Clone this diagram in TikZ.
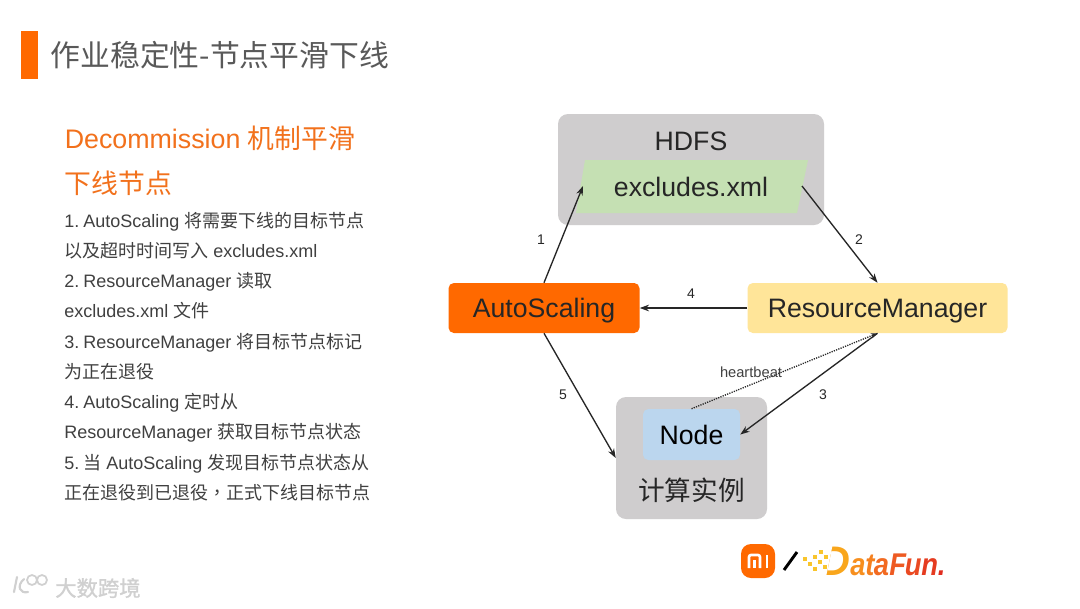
\documentclass[tikz,border=0pt]{standalone}
\usepackage{fontspec}
\setmainfont{Liberation Sans}
\newfontfamily\cjk{Noto Sans CJK SC}
\newfontfamily\cjktc{Noto Sans CJK TC}
\newfontfamily\cjkwm[FakeBold=1.2]{Noto Sans CJK SC}
\newcommand{\zh}[1]{{\cjk #1}}
\newcommand{\numgap}{\kern 3pt}
\usetikzlibrary{arrows.meta}
\definecolor{mibrand}{HTML}{FF6900}
\definecolor{boxgray}{HTML}{CFCDCE}
\definecolor{filegreen}{HTML}{C5E0B3}
\definecolor{rmyellow}{HTML}{FFE599}
\definecolor{nodeblue}{HTML}{BBD6EE}
\definecolor{inkdark}{HTML}{262626}
\definecolor{titlegray}{HTML}{595959}
\definecolor{headorange}{HTML}{F2711C}
\definecolor{bodygray}{HTML}{404040}
\definecolor{wm}{HTML}{D0D0D0}
\tikzset{
  x=0.75pt,y=-0.75pt,
  boxnode/.style={rectangle,rounded corners=7.5pt,inner sep=0pt,text=inkdark,font=\fontsize{20}{24}\selectfont},
  smallbox/.style={rectangle,rounded corners=4pt,inner sep=0pt,text=inkdark,text height=14.5pt,text depth=0pt,font=\fontsize{20}{24}\selectfont},
  conn/.style={draw=inkdark,line width=1pt,-{Stealth[length=7pt,width=5pt]}},
  hbconn/.style={draw=inkdark,line width=1pt,dash pattern=on 0.9pt off 0.9pt,-{Stealth[length=5pt,width=4pt]}},
  num/.style={inner sep=0pt,text=inkdark,font=\fontsize{10.5}{12}\selectfont},
  bodyline/.style={anchor=base west,inner sep=0pt,text=bodygray,font=\fontsize{13.5}{16}\selectfont},
  headline/.style={anchor=base west,inner sep=0pt,text=headorange,font=\fontsize{20.1}{24}\selectfont},
  logoletter/.style={anchor=base west,inner sep=0pt,font=\bfseries\itshape\fontsize{20.5}{22}\selectfont},
}
\begin{document}
\begin{tikzpicture}
\useasboundingbox (0,0) rectangle (1080,608);
\fill[white] (0,0) rectangle (1080,608);
% title
\fill[mibrand] (21,31) rectangle (38,79);
\node[anchor=west,inner sep=0pt,text=titlegray,font=\fontsize{22.35}{26}\selectfont] (title) at (50.5,55) {\zh{作业稳定性-节点平滑下线}};
% left text
\node[headline] (h1) at (64.5,148) {Decommission \zh{机制平滑}};
\node[headline] (h2) at (64.5,193) {\zh{下线节点}};
\node[bodyline] (b1) at (64,227) {1.\numgap AutoScaling \zh{将需要下线的目标节点}};
\node[bodyline] (b2) at (64,257) {\zh{以及超时时间写入} excludes.xml};
\node[bodyline] (b3) at (64,287) {2.\numgap ResourceManager \zh{读取}};
\node[bodyline] (b4) at (64,317) {excludes.xml \zh{文件}};
\node[bodyline] (b5) at (64,348) {3.\numgap ResourceManager \zh{将目标节点标记}};
\node[bodyline] (b6) at (64,378) {\zh{为正在退役}};
\node[bodyline] (b7) at (64,408) {4.\numgap AutoScaling \zh{定时从}};
\node[bodyline] (b8) at (64,438) {ResourceManager \zh{获取目标节点状态}};
\node[bodyline] (b9) at (64,469) {5.\numgap\zh{当} AutoScaling \zh{发现目标节点状态从}};
\node[bodyline] (b10) at (64,499) {\zh{正在退役到已退役}{\cjktc ，}\zh{正式下线目标节点}};
% HDFS
\node[boxnode,fill=boxgray,minimum width=199.5pt,minimum height=83.25pt] (hdfs) at (691,169.5) {};
\node[inner sep=0pt,text=inkdark,font=\fontsize{20}{24}\selectfont] (hdfslabel) at (691,141) {HDFS};
\fill[filegreen] (585,160) -- (808,160) -- (797,213) -- (576,213) -- cycle;
\node[inner sep=0pt,text=inkdark,font=\fontsize{20}{24}\selectfont] (ex) at (691,187) {excludes.xml};
\coordinate (exL) at (583,186);
\coordinate (exR) at (802,186);
% main boxes
\node[smallbox,fill=mibrand,minimum width=143.25pt,minimum height=37.5pt] (as) at (544,308) {AutoScaling};
\node[smallbox,fill=rmyellow,minimum width=195pt,minimum height=37.5pt] (rm) at (877.5,308) {ResourceManager};
\node[boxnode,fill=boxgray,minimum width=113.25pt,minimum height=91.5pt] (inst) at (691.5,458) {};
\node[inner sep=0pt,text=inkdark,font=\fontsize{20}{24}\selectfont] (instlabel) at (691.5,490) {\zh{计算实例}};
\node[smallbox,fill=nodeblue,text=black,minimum width=72.75pt,minimum height=38.25pt] (nd) at (691.5,434.5) {Node};
% connectors
\draw[conn] (as.north) -- (exL);
\draw[conn] (exR) -- (rm.north);
\draw[conn] (rm.west) -- (as.east);
\draw[conn] (rm.south) -- (nd.east);
\draw[conn] (as.south) -- (inst.west);
\draw[hbconn] (nd.north) -- (rm.south);
% labels
\node[num] (n1) at (541,240) {1};
\node[num] (n2) at (859,240) {2};
\node[num] (n3) at (823,395) {3};
\node[num] (n4) at (691,294) {4};
\node[num] (n5) at (563,395) {5};
\node[inner sep=0pt,text=bodygray,font=\fontsize{11}{13}\selectfont] (hb) at (751,372) {heartbeat};
% Xiaomi logo
\fill[mibrand,rounded corners=7.5pt] (741,544) rectangle (775,578);
\draw[white,line width=2pt,line join=round,rounded corners=1.5pt] (749,568) -- (749,555) -- (760,555) -- (760,568);
\draw[white,line width=2pt] (754.5,560) -- (754.5,568);
\draw[white,line width=2pt] (767,555) -- (767,568);
\draw[black,line width=2.2pt] (784,570) -- (797,552);
% DataFun logo
\node[logoletter,text={rgb,255:red,249;green,166;blue,28},font=\bfseries\itshape\fontsize{31}{34}\selectfont] (dfD) at (820,575) {D};
\fill[white] (818,577) -- (826,577) -- (833,543) -- (825,543) -- cycle;
\foreach \px/\py in {803/557,808/562,813/567,813/555,818/560,823/565,819/550,824/555}
  \fill[color={rgb,255:red,249;green,197;blue,44}] (\px,\py) rectangle +(4,4);
\node[logoletter,text={rgb,255:red,247;green,143;blue,30}] (dfa) at (850,575) {\scalebox{1}[1.15]{a}};
\node[logoletter,text={rgb,255:red,245;green,128;blue,31}] (dft) at (865,575) {\scalebox{1}[1.15]{t}};
\node[logoletter,text={rgb,255:red,242;green,106;blue,33}] (dfb) at (873.5,575) {\scalebox{1}[1.15]{a}};
\node[logoletter,text={rgb,255:red,238;green,90;blue,34}] (dff) at (889,575) {\scalebox{1}[1.15]{F}};
\node[logoletter,text={rgb,255:red,234;green,74;blue,34}] (dfu) at (904.5,575) {\scalebox{1}[1.15]{u}};
\node[logoletter,text={rgb,255:red,229;green,59;blue,32}] (dfn) at (921,575) {\scalebox{1}[1.15]{n}};
\node[logoletter,text={rgb,255:red,224;green,45;blue,31}] (dfp) at (937.5,575) {\scalebox{1}[1.15]{.}};
% watermark
\draw[wm,line width=1.6pt,line cap=round] (17,577) -- (14,592);
\draw[wm,line width=1.6pt,line cap=round] (28,592) .. controls (20,594) and (16,586) .. (24,579);
\draw[wm,line width=1.3pt] (32,580) circle[radius=5];
\draw[wm,line width=1.3pt] (42,580) circle[radius=5];
\node[inner sep=0pt,anchor=west,text=wm,font=\fontsize{16}{18}\selectfont] (wmtext) at (55,588) {{\cjkwm 大数跨境}};
\end{tikzpicture}
\end{document}
